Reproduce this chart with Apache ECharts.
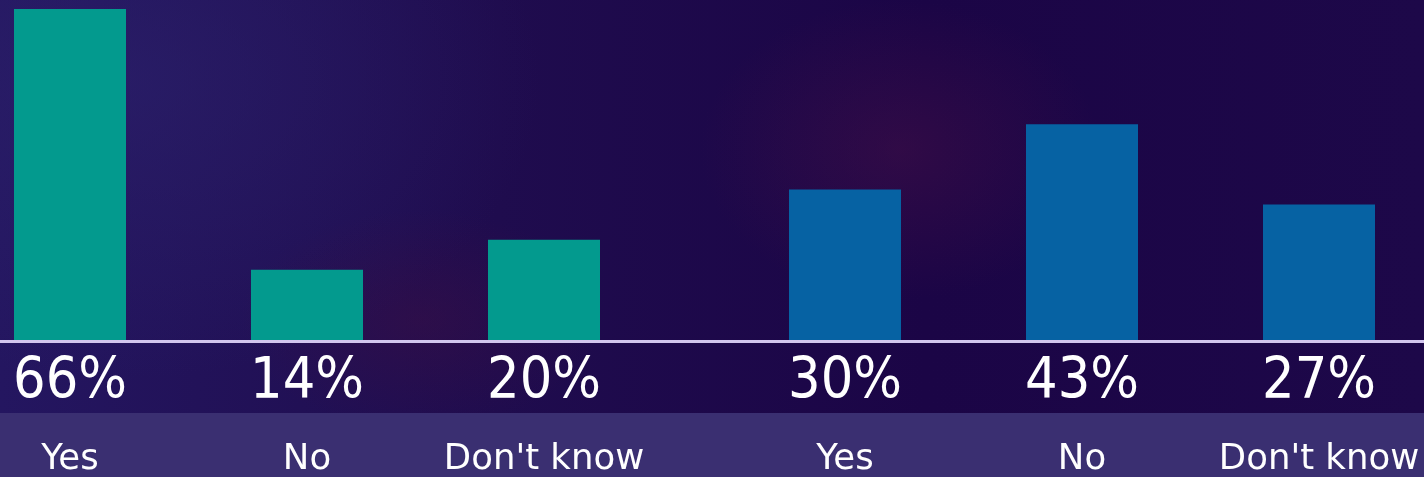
<!DOCTYPE html>
<html>
<head>
<meta charset="utf-8">
<script src="https://cdn.jsdelivr.net/npm/echarts@6/dist/echarts.min.js"></script>
<style>
html,body{margin:0;padding:0;width:1424px;height:477px;overflow:hidden;}
#wrap{position:relative;width:1424px;height:477px;
background:
 radial-gradient(ellipse 200px 150px at 900px 150px, rgba(80,18,70,0.4), rgba(80,18,70,0) 100%),
 radial-gradient(ellipse 180px 110px at 420px 320px, rgba(70,15,62,0.35), rgba(70,15,62,0) 100%),
 radial-gradient(ellipse 420px 300px at 120px 80px, rgba(45,35,110,0.55), rgba(45,35,110,0) 100%),
 linear-gradient(90deg, #241660 0%, #1f0c4e 35%, #1b0546 65%, #1d0849 100%);}
#band{position:absolute;left:0;top:413px;width:1424px;height:64px;background:#3a2f71;}
#chart{position:absolute;left:0;top:0;width:1424px;height:477px;}
</style>
</head>
<body>
<div id="wrap"><div id="band"></div><div id="chart"></div></div>
<script>
const categories = ['Yes', 'No', "Don't know"];
const group1Values = [66, 14, 20];
const group2Values = [30, 43, 27];
const group1Color = '#039a8e';
const group2Color = '#0662a3';

const chart = echarts.init(document.getElementById('chart'), null, {renderer: 'canvas'});

function xAxisFor(gridIndex, vals) {
  return {
    type: 'category', gridIndex: gridIndex, data: categories,
    axisLine: {show: false}, axisTick: {show: false},
    axisLabel: {
      margin: 4, interval: 0, hideOverlap: false,
      formatter: function (v, i) { return '{p|' + vals[i] + '%}\n{c|' + v + '}'; },
      rich: {
        p: {fontFamily: 'DejaVu Sans Condensed', fontSize: 57, color: '#ffffff', lineHeight: 78, align: 'center'},
        c: {fontFamily: 'DejaVu Sans', fontSize: 35.5, color: '#ffffff', lineHeight: 75, align: 'center'}
      }
    }
  };
}
function yAxisFor(gridIndex) {
  return {type: 'value', gridIndex: gridIndex, min: 0, max: 66, show: false, splitLine: {show: false}};
}

chart.setOption({
  backgroundColor: 'transparent',
  animation: false,
  grid: [
    {left: -48.5, width: 711, top: 9, height: 331, containLabel: false, outerBoundsMode: 'none'},
    {left: 726.5, width: 711, top: 9, height: 331, containLabel: false, outerBoundsMode: 'none'}
  ],
  xAxis: [xAxisFor(0, group1Values), xAxisFor(1, group2Values)],
  yAxis: [yAxisFor(0), yAxisFor(1)],
  series: [
    {type: 'bar', xAxisIndex: 0, yAxisIndex: 0, data: group1Values, barWidth: 112,
     itemStyle: {color: group1Color}},
    {type: 'bar', xAxisIndex: 1, yAxisIndex: 1, data: group2Values, barWidth: 112,
     itemStyle: {color: group2Color}}
  ],
  graphic: [
    {type: 'line', shape: {x1: 0, y1: 341.5, x2: 1424, y2: 341.5},
     style: {stroke: '#d2c6ee', lineWidth: 3}, z: 100}
  ]
});
</script>
</body>
</html>
